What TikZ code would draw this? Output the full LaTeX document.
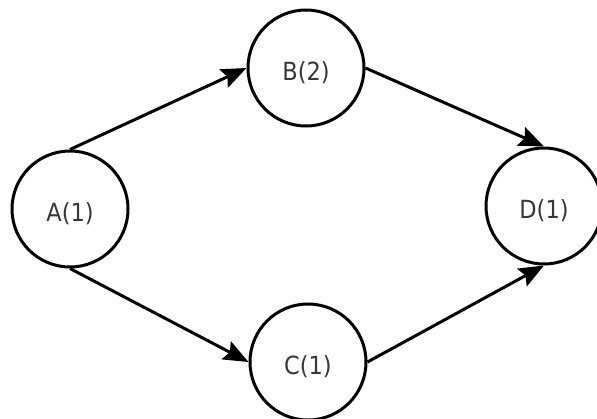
\documentclass[tikz,border=0pt]{standalone}
\usepackage{fontspec}
\setmainfont{DejaVu Sans Condensed}
\usetikzlibrary{arrows.meta}
\definecolor{labelgray}{HTML}{383838}
\tikzset{
  state/.style={circle, draw=black, line width=3pt, minimum size=116pt, inner sep=0pt,
    font=\fontsize{25}{28}\selectfont, text=labelgray, fill=white,
    text height=25pt, text depth=0pt},
  edge/.style={line width=3pt, -{Stealth[length=25pt,width=20pt,inset=4pt]}}
}
\begin{document}
\begin{tikzpicture}[x=1pt,y=-1pt]
\useasboundingbox[fill=white] (0,0) rectangle (597,418);
\node[state] (A) at (70,209) {A(1)};
\node[state] (B) at (306,68) {B(2)};
\node[state] (C) at (308,362) {C(1)};
\node[state] (D) at (544,206) {D(1)};
\draw[edge] (A.north) -- (B.west);
\draw[edge] (A.south) -- (C.west);
\draw[edge] (B.east) -- (D.north);
\draw[edge] (C.east) -- (D.south);
\end{tikzpicture}
\end{document}
